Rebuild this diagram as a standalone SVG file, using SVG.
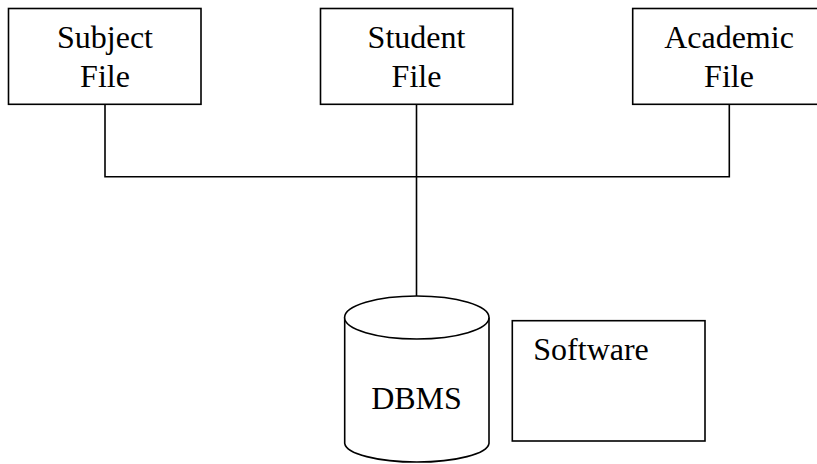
<svg xmlns="http://www.w3.org/2000/svg" width="817" height="464" viewBox="0 0 817 464">
<style>
.box{fill:#fff;stroke:#000;stroke-width:1.6}
.ln{fill:none;stroke:#000;stroke-width:1.6}
.t{font-family:"Liberation Serif","Times New Roman",serif;font-size:32px;fill:#000;text-anchor:middle}
</style>
<rect width="817" height="464" fill="#fff"/>
<g id="connectors">
<path class="ln" d="M105,104.3 V176.7 H729.3 V104.3"/>
<path class="ln" d="M416.5,104.3 V296"/>
</g>
<g id="subject">
<rect class="box" x="8.5" y="8.5" width="192.5" height="95.8"/>
<text class="t" x="105" y="48.3">Subject</text>
<text class="t" x="105" y="87">File</text>
</g>
<g id="student">
<rect class="box" x="320.5" y="8.5" width="192.2" height="95.8"/>
<text class="t" x="416.5" y="48.3">Student</text>
<text class="t" x="416.5" y="87">File</text>
</g>
<g id="academic">
<rect class="box" x="632.7" y="8.5" width="193" height="95.8"/>
<text class="t" x="729" y="48.3">Academic</text>
<text class="t" x="729" y="87">File</text>
</g>
<g id="dbms">
<path class="box" d="M344.7,317.5 V443.3 A72.2,19.5 0 0 0 489,443.3 V317.5"/>
<ellipse class="box" cx="416.8" cy="317.5" rx="72.2" ry="21.5"/>
<text class="t" x="416.5" y="409.3">DBMS</text>
</g>
<g id="software">
<rect class="box" x="512.3" y="320.7" width="192.7" height="120.3"/>
<text class="t" x="533.3" y="360" style="text-anchor:start">Software</text>
</g>
</svg>
